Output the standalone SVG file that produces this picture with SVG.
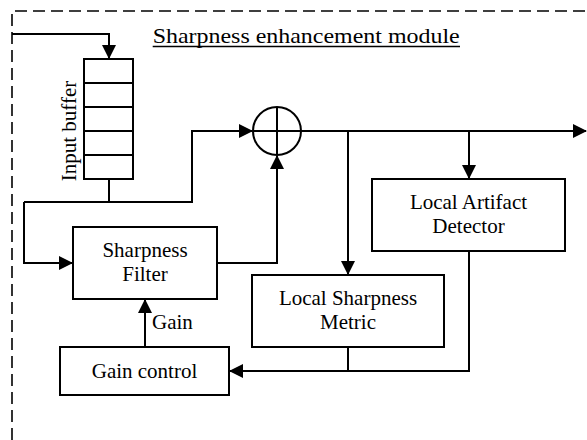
<svg xmlns="http://www.w3.org/2000/svg" width="587" height="440" viewBox="0 0 587 440">
<style>
  .box { fill: #fff; stroke: #000; stroke-width: 2; }
  .wire { fill: none; stroke: #000; stroke-width: 2; }
  .arr { marker-end: url(#ah); }
  .lbl { font-family: "Liberation Serif", "Times New Roman", serif; font-size: 21px; fill: #000; text-anchor: middle; }
  .border { fill: none; stroke: #000; stroke-width: 1.6; stroke-dasharray: 12 6; }
</style>
<defs>
  <marker id="ah" markerUnits="userSpaceOnUse" markerWidth="16" markerHeight="16" refX="13" refY="7" orient="auto">
    <path d="M0,0 L14,7 L0,14 Z" fill="#000"/>
  </marker>
</defs>
<rect width="587" height="440" fill="#fff"/>
<path class="border" d="M12,440 L12,11 L587,11"/>
<g id="title">
  <text x="152.7" y="42.5" font-family="Liberation Serif, Times New Roman, serif" font-size="22" textLength="307" lengthAdjust="spacingAndGlyphs">Sharpness enhancement module</text>
  <line x1="152.7" y1="46.5" x2="460" y2="46.5" stroke="#000" stroke-width="1.6"/>
</g>
<g id="connectors">
  <path class="wire arr" d="M12,34 L109,34 L109,58"/>
  <path class="wire" d="M109,179 L109,202"/>
  <path class="wire arr" d="M24,202 L192,202 L192,131 L252,131"/>
  <path class="wire arr" d="M24,202 L24,263 L72,263"/>
  <path class="wire arr" d="M217,263 L277,263 L277,156"/>
  <path class="wire arr" d="M301,131 L586,131"/>
  <path class="wire arr" d="M348,131 L348,274"/>
  <path class="wire arr" d="M469,131 L469,178"/>
  <path class="wire" d="M348,347 L348,371"/>
  <path class="wire arr" d="M469,251 L469,371 L230,371"/>
  <path class="wire arr" d="M145,347 L145,300"/>
  <text class="lbl" x="152" y="329" style="text-anchor:start">Gain</text>
</g>
<g id="input-buffer">
  <rect class="box" x="84" y="59" width="49" height="120"/>
  <path class="wire" d="M84,83 L133,83 M84,107 L133,107 M84,131 L133,131 M84,155 L133,155"/>
  <text class="lbl" transform="translate(76,131) rotate(-90)" x="0" y="0">Input buffer</text>
</g>
<g id="adder">
  <circle cx="277" cy="131" r="24" fill="#fff" stroke="#000" stroke-width="2"/>
  <path class="wire" d="M253,131 L301,131 M277,107 L277,155" stroke-width="1.6"/>
</g>
<g id="sharpness-filter">
  <rect class="box" x="73" y="227" width="144" height="72"/>
  <text class="lbl" x="145" y="257">Sharpness</text>
  <text class="lbl" x="145" y="281">Filter</text>
</g>
<g id="gain-control">
  <rect class="box" x="60" y="347" width="169" height="48"/>
  <text class="lbl" x="144.5" y="378">Gain control</text>
</g>
<g id="local-sharpness-metric">
  <rect class="box" x="252" y="275" width="192" height="72"/>
  <text class="lbl" x="348" y="305">Local Sharpness</text>
  <text class="lbl" x="348" y="329">Metric</text>
</g>
<g id="local-artifact-detector">
  <rect class="box" x="372" y="179" width="193" height="72"/>
  <text class="lbl" x="468.5" y="209">Local Artifact</text>
  <text class="lbl" x="468.5" y="233">Detector</text>
</g>
</svg>
